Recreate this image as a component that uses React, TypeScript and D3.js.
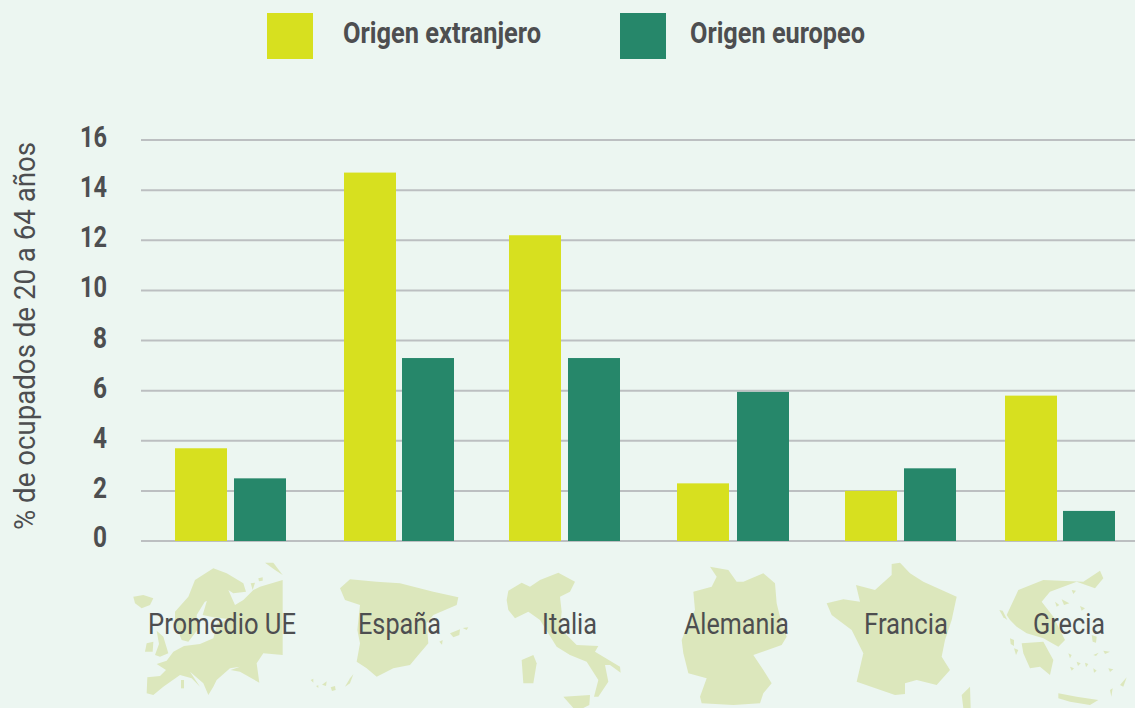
import React from "react";
import * as d3 from "d3";

// ---- data ----
const categories = ["Promedio UE", "España", "Italia", "Alemania", "Francia", "Grecia"];
const extranjero = [3.7, 14.7, 12.2, 2.3, 2.0, 5.8];
const europeo = [2.5, 7.3, 7.3, 5.95, 2.9, 1.2];
const yTicks = [0, 2, 4, 6, 8, 10, 12, 14, 16];
const legendLabels = ["Origen extranjero", "Origen europeo"];
const yTitle = "% de ocupados de 20 a 64 años";

// ---- layout ----
const W = 1135, H = 708;
const BG = "#ecf6f1", C1 = "#d7e01f", C2 = "#26876a", GRID = "#bcbfc1", TXT = "#4d4e50", MAPC = "#dce7bc";
const FONT = "Roboto, sans-serif";
const groupLeft = [175, 344, 509, 677, 845, 1005];
const secondOffset = [59, 58, 59, 60, 59, 58];
const labelCenter = [222, 399.5, 569.5, 736.5, 906, 1069];
const labelWidth = [148, 83, 55, 105, 84, 72];
const BAR_W = 52;

const x = d3.scaleOrdinal<string, number>().domain(categories).range(groupLeft);
const y = d3.scaleLinear().domain([0, 16]).range([541, 140]);

// ---- decorative map silhouettes, traced at 3x in local crop coordinates ----
type Poly = number[][];
const europe: Poly[] = [
  [[442,412],[480,408],[498,390],[470,372],[500,362],[520,335],[552,318],[600,312],[640,295],[652,250],[690,238],[640,232],[608,225],[622,178],[640,172],[614,186],[590,225],[592,270],[565,305],[545,300],[525,250],[525,215],[565,170],[585,120],[640,85],[680,100],[730,130],[738,155],[700,160],[685,150],[705,195],[730,180],[760,150],[780,140],[848,120],[848,345],[790,340],[770,370],[778,428],[720,395],[692,390],[720,380],[690,385],[650,420],[640,440],[625,465],[610,430],[570,395],[600,440],[575,415],[540,405],[490,440],[460,465],[440,460]],
  [[400,170],[430,165],[460,175],[450,195],[425,205],[405,190]],
  [[470,272],[490,290],[505,340],[480,350],[465,345],[477,312]],
  [[440,310],[460,305],[458,335],[435,335]],
  [[795,68],[820,68],[848,105],[825,90]],
  [[775,115],[788,112],[788,122],[777,124]],
  [[752,130],[765,128],[758,150]],
  [[543,420],[552,420],[552,445],[543,445]],
];
const spain: Poly[] = [
  [[1020,145],[1050,118],[1130,125],[1200,130],[1300,155],[1375,172],[1370,195],[1300,225],[1280,250],[1285,310],[1255,345],[1230,375],[1180,385],[1130,410],[1100,385],[1070,365],[1080,310],[1072,270],[1080,195],[1035,180]],
  [[1350,280],[1380,268],[1378,285],[1360,292]],
  [[1388,264],[1405,262],[1400,270]],
  [[1318,305],[1328,300],[1326,314]],
  [[992,442],[1005,438],[1007,450],[996,453]],
  [[966,434],[980,424],[978,438]],
  [[1035,440],[1050,415],[1060,403],[1050,430]],
  [[932,420],[940,416],[940,428]],
  [[948,438],[955,436],[955,444]],
];
const italy: Poly[] = [
  [[80,180],[85,152],[125,128],[150,140],[180,120],[235,98],[285,125],[270,155],[240,170],[245,215],[240,265],[290,315],[355,318],[345,335],[420,380],[422,398],[390,375],[375,375],[385,425],[355,470],[342,470],[355,420],[320,365],[270,345],[230,320],[180,240],[145,215],[105,235],[85,210]],
  [[125,360],[160,345],[170,370],[160,430],[130,430]],
  [[250,470],[330,465],[328,495],[310,504],[280,504]],
];
const germany: Poly[] = [
  [[640,155],[695,140],[710,110],[690,80],[745,90],[770,125],[790,125],[850,100],[885,130],[890,190],[900,230],[920,290],[905,315],[820,345],[850,390],[875,430],[850,460],[840,490],[760,495],[665,490],[660,470],[680,415],[625,400],[610,340],[605,300],[620,260],[645,210]],
];
const france: Poly[] = [
  [[50,190],[100,178],[150,185],[138,135],[195,150],[245,105],[245,72],[270,68],[300,100],[340,125],[440,170],[425,240],[405,300],[395,350],[420,390],[380,435],[320,420],[285,430],[285,462],[255,465],[140,425],[160,340],[125,270],[65,225]],
  [[455,465],[480,440],[482,504],[460,504]],
];
const greece: Poly[] = [
  [[590,225],[625,150],[700,120],[820,125],[870,92],[880,115],[855,145],[800,125],[720,155],[695,185],[730,230],[765,300],[745,320],[700,295],[650,280],[620,260],[600,240]],
  [[635,310],[700,305],[730,360],[720,405],[690,380],[660,385],[640,340]],
  [[745,460],[800,470],[865,480],[840,495],[780,485],[745,475]],
  [[930,435],[950,412],[940,440]],
  [[568,210],[578,212],[592,240],[580,232]],
  [[600,295],[612,300],[612,318],[602,312]],
  [[612,325],[625,330],[618,345]],
  [[735,185],[748,195],[740,200]],
  [[755,178],[778,190],[762,195]],
  [[785,150],[798,152],[790,162]],
  [[810,198],[825,205],[815,212]],
  [[845,285],[860,290],[858,308],[848,305]],
  [[880,332],[900,335],[885,342]],
  [[850,345],[866,338],[858,348]],
  [[775,340],[785,345],[780,355]],
  [[800,365],[812,370],[804,378]],
  [[825,368],[835,372],[828,382]],
  [[780,380],[792,385],[785,392]],
  [[895,385],[910,388],[900,396]],
  [[850,385],[860,392],[852,398]],
  [[900,450],[908,445],[904,470]],
];
const maps = [
  { polys: [...europe, ...spain], dx: 0, dy: 540 },
  { polys: [...italy, ...germany], dx: 480, dy: 540 },
  { polys: [...france, ...greece], dx: 810, dy: 540 },
];
const ring = d3.line().curve(d3.curveLinearClosed);

export default function App() {
  return (
    <svg
      width={W}
      height={H}
      viewBox={`0 0 ${W} ${H}`}
      style={{ position: "fixed", left: 0, top: 0, background: BG, fontFamily: FONT }}
    >
      <rect width={W} height={H} fill={BG} />

      {/* maps */}
      {maps.map((m, i) => (
        <g key={i} transform={`translate(${m.dx},${m.dy}) scale(${1 / 3})`} fill={MAPC}>
          {m.polys.map((p, j) => (
            <path key={j} d={ring(p as [number, number][]) ?? ""} />
          ))}
        </g>
      ))}

      {/* legend */}
      <rect x={267} y={13} width={46} height={46} fill={C1} />
      <rect x={620} y={13} width={46} height={46} fill={C2} />
      <text x={343} y={43} fontSize={29} fontWeight={700} fill={TXT} textLength={198} lengthAdjust="spacingAndGlyphs">{legendLabels[0]}</text>
      <text x={690} y={43} fontSize={29} fontWeight={700} fill={TXT} textLength={175} lengthAdjust="spacingAndGlyphs">{legendLabels[1]}</text>

      {/* grid */}
      {yTicks.map((t) => (
        <line key={t} x1={141} x2={W} y1={y(t)} y2={y(t)} stroke={GRID} strokeWidth={2} />
      ))}

      {/* y ticks */}
      {yTicks.map((t) => (
        <text
          key={t}
          x={107}
          y={y(t) + (t === 0 ? 6 : 7)}
          textAnchor="end"
          fontSize={29}
          fontWeight={700}
          fill={TXT}
          textLength={t >= 10 ? 27 : 14}
          lengthAdjust="spacingAndGlyphs"
        >
          {t}
        </text>
      ))}

      {/* y title */}
      <text
        transform="translate(35,530) rotate(-90)"
        fontSize={30}
        fill={TXT}
        textLength={388}
        lengthAdjust="spacingAndGlyphs"
      >
        {yTitle}
      </text>

      {/* bars */}
      {categories.map((c, i) => (
        <g key={c}>
          <rect x={x(c)} y={y(extranjero[i])} width={BAR_W} height={y(0) - y(extranjero[i])} fill={C1} />
          <rect x={x(c) + secondOffset[i]} y={y(europeo[i])} width={BAR_W} height={y(0) - y(europeo[i])} fill={C2} />
        </g>
      ))}

      {/* category labels */}
      {categories.map((c, i) => (
        <text
          key={c}
          x={labelCenter[i] - labelWidth[i] / 2}
          y={634}
          fontSize={30}
          fill={TXT}
          textLength={labelWidth[i]}
          lengthAdjust="spacingAndGlyphs"
        >
          {c}
        </text>
      ))}
    </svg>
  );
}
